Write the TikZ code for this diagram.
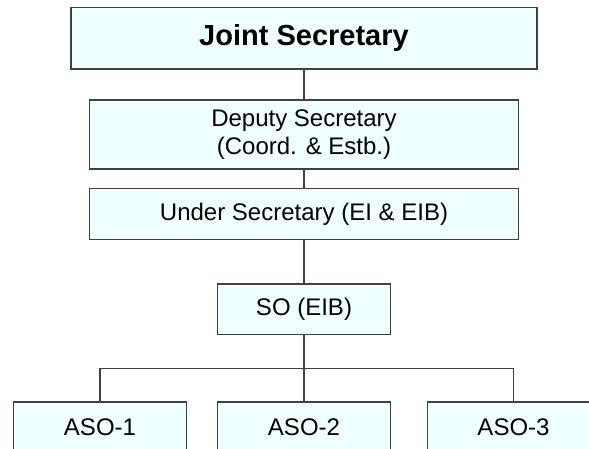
\documentclass[tikz,border=0pt]{standalone}
\usepackage{fontspec}
\setmainfont{Liberation Sans}
\usepackage{tikz}
\usetikzlibrary{positioning}
\definecolor{boxfill}{RGB}{240,255,255}
\definecolor{boxline}{RGB}{64,64,64}

\begin{document}
\begin{tikzpicture}[x=1pt, y=-1pt,
        post/.style={draw=boxline, fill=boxfill, line width=1.2pt, inner sep=0pt,
            align=center, font=\fontsize{24}{28.4}\selectfont},
        link/.style={draw=boxline, line width=1.2pt}]
        \clip (0, 0) rectangle (589, 449);

        % Top of the hierarchy
        \node[post, minimum width=466, minimum height=61.7, font=\fontsize{29}{34}\selectfont\bfseries]
            (js) at (304, 38.2) {Joint Secretary};
        \node[post, minimum width=428.3, minimum height=69] (ds) at (304, 134.5)
            {Deputy Secretary\\(Coord. \& Estb.)};
        \node[post, minimum width=428.3, minimum height=50.6] (us) at (304, 214)
            {Under Secretary (EI \& EIB)};

        % Section
        \node[post, minimum width=173, minimum height=50.3] (so) at (304, 309.2) {SO (EIB)};

        % Assistants
        \node[post, minimum width=172.3, minimum height=50] (aso1) at (100, 427) {ASO-1};
        \node[post, minimum width=172.6, minimum height=50] (aso2) at (304, 427) {ASO-2};
        \node[post, minimum width=172.3, minimum height=50] (aso3) at (513.5, 427) {ASO-3};

        % Connectors
        \coordinate (bar) at (304, 368.3);
        \draw[link] (js) -- (ds);
        \draw[link] (ds) -- (us);
        \draw[link] (us) -- (so);
        \draw[link] (so) -- (bar);
        \draw[link] (aso1) |- (bar) -| (aso3);
        \draw[link] (bar) -- (aso2);
    \end{tikzpicture}
\end{document}
